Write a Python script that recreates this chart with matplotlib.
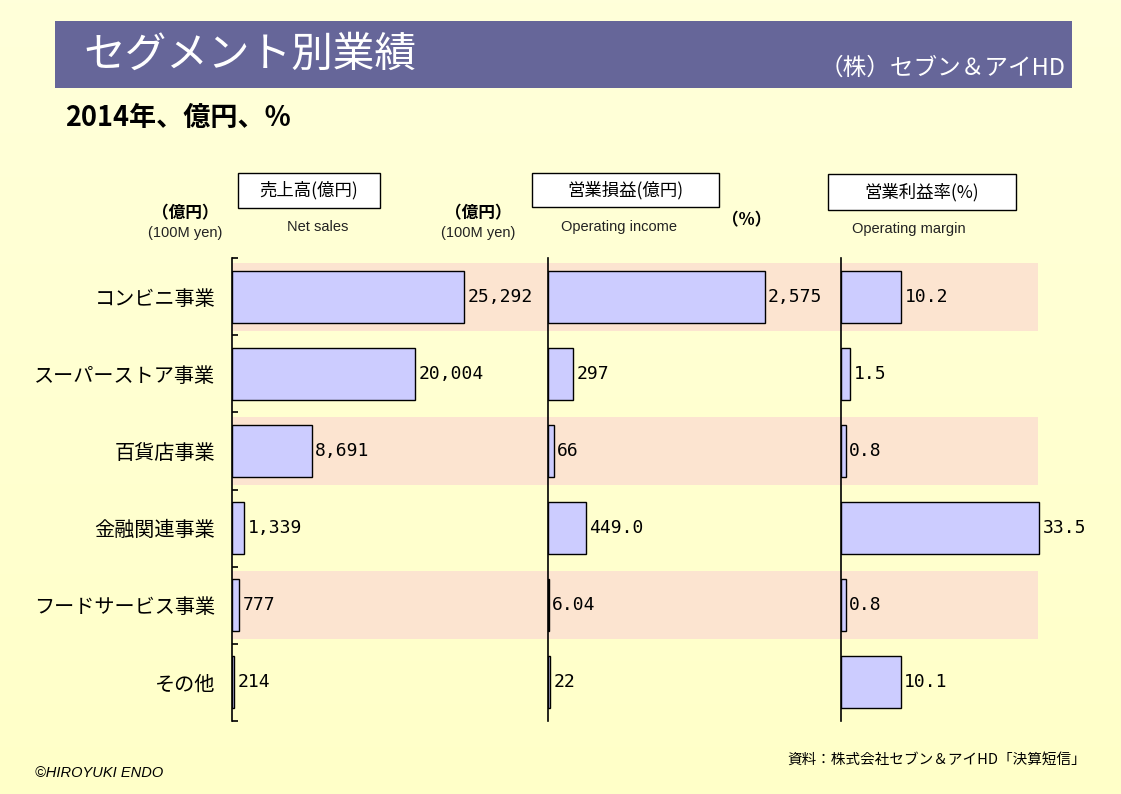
"""Segment results chart (Seven & i HD, 2014)."""
import numpy as np
import matplotlib
matplotlib.use("Agg")
import matplotlib.pyplot as plt
from matplotlib.patches import Rectangle
from matplotlib.colors import LinearSegmentedColormap

plt.rcParams['font.family'] = ['Noto Sans CJK JP', 'DejaVu Sans']

# data
segments = ["コンビニ事業", "スーパーストア事業", "百貨店事業",
            "金融関連事業", "フードサービス事業", "その他"]
net_sales = [25292, 20004, 8691, 1339, 777, 214]
net_sales_labels = ["25,292", "20,004", "8,691", "1,339", "777", "214"]
op_income = [2575, 297, 66, 449.0, 6.04, 22]
op_income_labels = ["2,575", "297", "66", "449.0", "6.04", "22"]
op_margin = [10.2, 1.5, 0.8, 33.5, 0.8, 10.1]
op_margin_labels = ["10.2", "1.5", "0.8", "33.5", "0.8", "10.1"]

W, H = 1121, 794
BG_TOP = "#FFFFDA"
BG_BOT = "#FFFFC8"
BAR = "#CCCCFF"
BAND = "#FCE4D0"
TITLE_BG = "#666699"
NUM_FONT = ["DejaVu Sans Mono"]
LATIN_FONT = ["Liberation Sans", "DejaVu Sans"]


def fx(x):
    return x / W


def fy(y):
    return 1 - y / H


def box(x0, y0, x1, y1, **kw):
    fig.patches.append(Rectangle((fx(x0), fy(y1)), fx(x1) - fx(x0),
                                 fy(y0) - fy(y1), transform=fig.transFigure,
                                 **kw))


fig = plt.figure(figsize=(W / 100, H / 100), dpi=100)

# background gradient
bg = fig.add_axes([0, 0, 1, 1], zorder=-10)
grad = np.linspace(0, 1, 256).reshape(-1, 1)
cmap = LinearSegmentedColormap.from_list("bg", [BG_TOP, BG_BOT])
bg.imshow(grad, aspect="auto", cmap=cmap, extent=[0, 1, 0, 1])
bg.axis("off")

# title bar
box(55, 21, 1072, 88, facecolor=TITLE_BG, edgecolor="none")
fig.text(fx(83), fy(55), "セグメント別業績", color="white", fontsize=30,
         ha="left", va="center")
fig.text(fx(1066), fy(68), "（株）セブン＆アイHD", color="white", fontsize=17,
         ha="right", va="center")
fig.text(fx(65), fy(118), "2014年、億円、%", fontsize=19.5, fontweight="bold",
         ha="left", va="center")

# rows area
top_px, bot_px = 258, 721
row_y = np.arange(len(segments))
ax_bottom = fy(bot_px)
ax_height = (bot_px - top_px) / H

# pink bands behind every other row
band_ax = fig.add_axes([fx(232), ax_bottom, fx(1038) - fx(232), ax_height],
                       zorder=-5)
band_ax.set_ylim(len(segments) - 0.5, -0.5)
band_ax.set_xlim(0, 1)
for i in row_y[::2]:
    band_ax.axhspan(i - 0.44, i + 0.44, color=BAND, lw=0)
band_ax.axis("off")

panels = [
    (232, 548, 0.00916, net_sales, net_sales_labels, True),
    (548, 841, 0.0841, op_income, op_income_labels, False),
    (841, 1060, 5.91, op_margin, op_margin_labels, False),
]
for left, right, scale, vals, labels, first in panels:
    ax = fig.add_axes([fx(left), ax_bottom, fx(right) - fx(left), ax_height])
    ax.patch.set_alpha(0)
    ax.barh(row_y, vals, height=0.675, color=BAR, edgecolor="black",
            linewidth=1.0)
    ax.set_xlim(0, (right - left) / scale)
    ax.set_ylim(len(segments) - 0.5, -0.5)
    for s in ["top", "right", "bottom"]:
        ax.spines[s].set_visible(False)
    ax.spines["left"].set_linewidth(1.2)
    ax.set_xticks([])
    for y, v, lab in zip(row_y, vals, labels):
        ax.annotate(lab, (v, y), xytext=(2.5, 0), textcoords="offset points",
                    ha="left", va="center", fontsize=13, color="black",
                    family=NUM_FONT)
    if first:
        ax.set_yticks(np.arange(-0.5, len(segments), 1.0))
        ax.set_yticklabels([])
        ax.tick_params(axis="y", which="major", direction="in", length=4.5,
                       width=1.2)
        ax.set_yticks(row_y, minor=True)
        ax.set_yticklabels(segments, minor=True, fontsize=14.5)
        ax.tick_params(axis="y", which="minor", length=0, pad=12)
    else:
        ax.set_yticks([])

# column headers
headers = [
    ("売上高(億円)", (238, 173, 380, 208), "Net sales", (318, 227)),
    ("営業損益(億円)", (532, 173, 719, 207), "Operating income", (619, 227)),
    ("営業利益率(%)", (828, 174, 1016, 210), "Operating margin", (909, 229)),
]
for title, (x0, y0, x1, y1), sub, (sx, sy) in headers:
    box(x0, y0, x1, y1, facecolor="white", edgecolor="black", linewidth=1.0)
    fig.text(fx((x0 + x1) / 2), fy((y0 + y1) / 2), title, fontsize=12.5,
             ha="center", va="center")
    fig.text(fx(sx), fy(sy), sub, fontsize=10.5, ha="center", va="center",
             family=LATIN_FONT, color="#222222")

# unit labels
for cx in (185, 478):
    fig.text(fx(cx), fy(213), "（億円）", fontsize=12, fontweight="bold",
             ha="center", va="center")
    fig.text(fx(cx), fy(233), "(100M yen)", fontsize=10.5, ha="center",
             va="center", family=LATIN_FONT, color="#222222")
fig.text(fx(747), fy(220), "（%）", fontsize=12, fontweight="bold",
         ha="center", va="center")

# footer
fig.text(fx(35), fy(773), "©HIROYUKI ENDO", fontsize=10.5, style="italic",
         ha="left", va="center", family=LATIN_FONT)
fig.text(fx(1086), fy(760), "資料：株式会社セブン＆アイHD「決算短信」",
         fontsize=10.5, ha="right", va="center")

fig.savefig("out.png", dpi=100)
